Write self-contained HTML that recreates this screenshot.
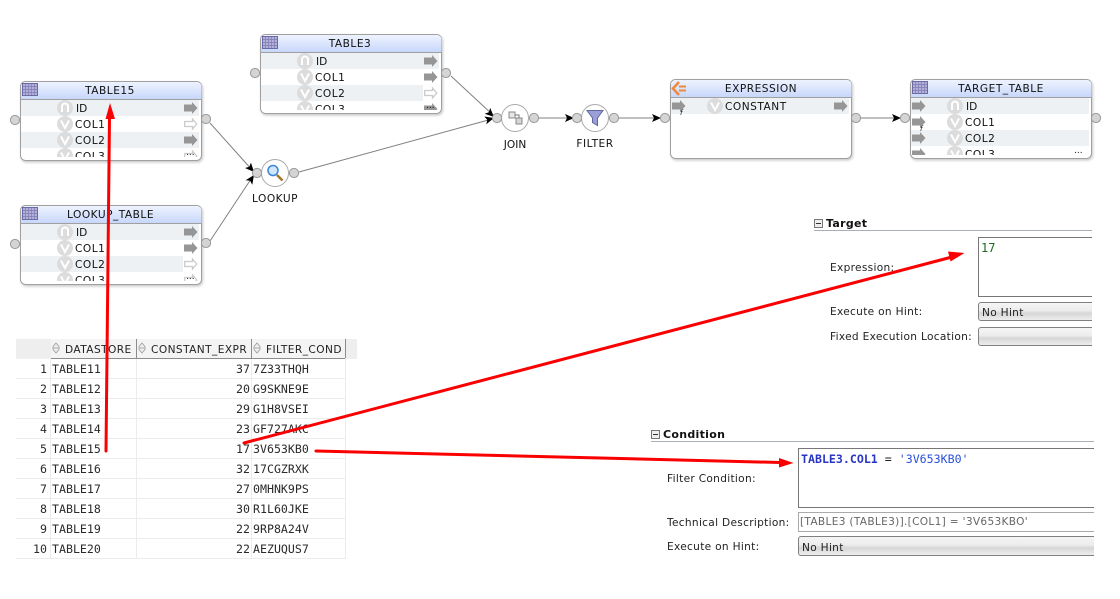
<!DOCTYPE html>
<html><head><meta charset="utf-8"><style>
html,body{margin:0;padding:0;background:#fff;width:1120px;height:599px;overflow:hidden}
svg{display:block}
text{font-family:"DejaVu Sans","Liberation Sans",sans-serif;font-size:10.6px;fill:#111}
.t{letter-spacing:.5px}
.m{font-family:"DejaVu Sans Mono","Liberation Mono",monospace;font-size:11.6px;fill:#2a2a2a}
.h{font-size:10.6px;fill:#222;letter-spacing:.42px}
.l{font-size:10.6px;fill:#222;letter-spacing:.3px}
.b{font-weight:bold;font-size:11px;letter-spacing:.3px}
.d{font-size:9px}
.c{text-anchor:middle}
.r{text-anchor:end}
</style></head><body>
<svg width="1120" height="599" viewBox="0 0 1120 599" xmlns="http://www.w3.org/2000/svg">
<defs>
<linearGradient id="hd" x1="0" y1="0" x2="0" y2="1"><stop offset="0" stop-color="#eef3fe"/><stop offset="1" stop-color="#c6d6fb"/></linearGradient>
<linearGradient id="cb" x1="0" y1="0" x2="0" y2="1"><stop offset="0" stop-color="#f6f6f6"/><stop offset=".45" stop-color="#ececec"/><stop offset=".6" stop-color="#d6d6d6"/><stop offset="1" stop-color="#f0f0f0"/></linearGradient>
<filter id="sh" x="-5%" y="-5%" width="110%" height="115%"><feDropShadow dx="1" dy="1.5" stdDeviation="1.2" flood-color="#000" flood-opacity=".22"/></filter>
<clipPath id="cl"><rect x="0" y="0" width="181" height="76"/></clipPath>
<g id="box"><rect x=".5" y=".5" width="181" height="79" rx="5" fill="#fff" stroke="#a0a0a0" filter="url(#sh)"/><path d="M1 18.500V5.500a4.500 4.500 0 0 1 4.500-4.500H177a4.500 4.500 0 0 1 4.500 4.500V18.500Z" fill="url(#hd)"/><path d="M1 18.500H181.500" stroke="#a0a0a0"/></g>
<g id="grid"><rect x=".5" y=".5" width="15" height="12" fill="#b3afd8" stroke="#6a6aa4"/><path d="M1 3.500H15M1 6.500H15M1 9.500H15M3.500 1V12M6.500 1V12M9.500 1V12M12.500 1V12" stroke="#7d7db4" stroke-width=".7"/></g>
<g id="ar"><path d="M0 -3.500H8V-6L13.500 0L8 6V3.500H0Z" fill="#969696"/></g>
<g id="aro"><path d="M.7 -2.500H8.500V-5L12.800 0L8.500 5V2.500H.7Z" fill="#fff" stroke="#cfcaca" stroke-width="1.300"/></g>
<circle id="port" r="4.600" fill="#d4d4d4" stroke="#999"/>
<g id="n"><circle r="8" fill="#dcdcdc"/><path d="M-3 4V-1.500a3 3 0 0 1 6 0V4" fill="none" stroke="#fff" stroke-width="2"/></g>
<g id="v"><circle r="8" fill="#dcdcdc"/><path d="M-4 -3.500L0 4L4 -3.500" fill="none" stroke="#fff" stroke-width="2"/></g>
<path id="tip" d="M0 0L-9 -4L-7 0L-9 4Z" fill="#000"/>
<g id="sb"><rect x=".5" y=".5" width="8" height="8" fill="#eee" stroke="#777"/><path d="M2 4.500H7" stroke="#333"/></g>
<g id="sort"><path d="M4 0L7 3.500V6.500L4 10L1 6.500V3.500Z" fill="#eee" stroke="#999" stroke-width=".8"/><path d="M1.500 5H6.500" stroke="#999" stroke-width=".8"/></g>
</defs>

<!-- connectors -->
<g stroke="#808080" stroke-width="1" fill="none">
<path d="M210 123L253 171M210 241L253 176M299 172L492 119M451 76L494 116M539 118H573M619 118H661M861 118H901"/>
</g>
<use href="#tip" transform="translate(254,172) rotate(48)"/>
<use href="#tip" transform="translate(254,175) rotate(-56)"/>
<use href="#tip" transform="translate(494,117) rotate(43)"/>
<use href="#tip" transform="translate(494,118) rotate(-15)"/>
<use href="#tip" transform="translate(574,118)"/>
<use href="#tip" transform="translate(661,118)"/>
<use href="#tip" transform="translate(901,118)"/>

<!-- TABLE15 -->
<g transform="translate(20,81)"><use href="#box"/><use href="#grid" x="2" y="2"/>
<text x="90" y="13" class="c t">TABLE15</text>
<g clip-path="url(#cl)"><rect x="1" y="19" width="178" height="16" fill="#eef1f4"/><rect x="1" y="51" width="178" height="16" fill="#eef1f4"/>
<use href="#n" x="45" y="27"/><use href="#v" x="45" y="43"/><use href="#v" x="45" y="59"/><use href="#v" x="45" y="75"/>
<text x="56" y="31">ID</text><text x="55" y="47" class="t">COL1</text><text x="55" y="63" class="t">COL2</text><text x="55" y="79" class="t">COL3</text>
<use href="#ar" x="164" y="27"/><use href="#aro" x="164" y="43"/><use href="#ar" x="164" y="59"/><use href="#aro" x="164" y="75"/></g>
<text x="166" y="74" class="d">...</text></g>
<use href="#port" x="15" y="120"/><use href="#port" x="206" y="119"/>

<!-- LOOKUP_TABLE -->
<g transform="translate(20,205)"><use href="#box"/><use href="#grid" x="2" y="2"/>
<text x="90.500" y="13" class="c t">LOOKUP_TABLE</text>
<g clip-path="url(#cl)"><rect x="1" y="19" width="178" height="16" fill="#eef1f4"/><rect x="1" y="51" width="162" height="16" fill="#eef1f4"/>
<use href="#n" x="45" y="27"/><use href="#v" x="45" y="43"/><use href="#v" x="45" y="59"/><use href="#v" x="45" y="75"/>
<text x="56" y="31">ID</text><text x="55" y="47" class="t">COL1</text><text x="55" y="63" class="t">COL2</text><text x="55" y="79" class="t">COL3</text>
<use href="#ar" x="164" y="27"/><use href="#ar" x="164" y="43"/><use href="#aro" x="164" y="59"/><use href="#aro" x="164" y="75"/></g>
<text x="166" y="74" class="d">...</text></g>
<use href="#port" x="15" y="244"/><use href="#port" x="206" y="243"/>

<!-- TABLE3 -->
<g transform="translate(260,34)"><use href="#box"/><use href="#grid" x="2" y="2"/>
<text x="90" y="13" class="c t">TABLE3</text>
<g clip-path="url(#cl)"><rect x="1" y="19" width="178" height="16" fill="#eef1f4"/><rect x="1" y="51" width="162" height="16" fill="#eef1f4"/>
<use href="#n" x="45" y="27"/><use href="#v" x="45" y="43"/><use href="#v" x="45" y="59"/><use href="#v" x="45" y="75"/>
<text x="56" y="31">ID</text><text x="55" y="47" class="t">COL1</text><text x="55" y="63" class="t">COL2</text><text x="55" y="79" class="t">COL3</text>
<use href="#ar" x="164" y="27"/><use href="#ar" x="164" y="43"/><use href="#aro" x="164" y="59"/><use href="#ar" x="164" y="75"/></g>
<text x="166" y="74" class="d">...</text></g>
<use href="#port" x="255" y="73"/><use href="#port" x="446" y="73"/>

<!-- LOOKUP -->
<circle cx="275" cy="173" r="13.500" fill="#fff" stroke="#aaa"/>
<circle cx="273" cy="170.500" r="5" fill="#cfe6fb" stroke="#3b86d6" stroke-width="1.500"/><path d="M277 175L282.500 180.500" stroke="#a5762a" stroke-width="2.500"/>
<use href="#port" x="257" y="173"/><use href="#port" x="294" y="173"/>
<text x="275" y="202" class="c t">LOOKUP</text>

<!-- JOIN -->
<circle cx="515" cy="118" r="13.500" fill="#fff" stroke="#aaa"/>
<rect x="509" y="112" width="6" height="6" fill="#e6e6e6" stroke="#888"/><rect x="516" y="118" width="6" height="6" fill="#d6d6d6" stroke="#888"/><path d="M515 115H519V118" fill="none" stroke="#777"/>
<use href="#port" x="497" y="118"/><use href="#port" x="534" y="118"/>
<text x="515" y="148" class="c">JOIN</text>

<!-- FILTER -->
<circle cx="595" cy="118" r="13.500" fill="#fff" stroke="#aaa"/>
<path d="M587 110.500H603L597.500 118V125.500L592.500 122.500V118Z" fill="#9b9fd8" stroke="#62659f"/>
<use href="#port" x="577" y="118"/><use href="#port" x="614" y="118"/>
<text x="595" y="147" class="c t">FILTER</text>

<!-- EXPRESSION -->
<g transform="translate(670,79)"><use href="#box"/>
<path d="M9 3L3 9.500L9 16" fill="none" stroke="#ee8a3c" stroke-width="2.600"/><path d="M9 7.500H16M9 11.500H16" stroke="#ee8a3c" stroke-width="2"/>
<text x="91" y="13" class="c t">EXPRESSION</text>
<rect x="1" y="19" width="178" height="16" fill="#eef1f4"/>
<use href="#v" x="45" y="27"/><text x="55" y="31" class="t">CONSTANT</text>
<use href="#ar" x="2" y="27"/><text x="10" y="36" style="font-size:7px;font-style:italic">f</text>
<use href="#ar" x="164" y="27"/></g>
<use href="#port" x="665" y="118"/><use href="#port" x="856" y="118"/>

<!-- TARGET_TABLE -->
<g transform="translate(910,79)"><use href="#box"/><use href="#grid" x="2" y="2"/>
<text x="91" y="13" class="c t">TARGET_TABLE</text>
<g clip-path="url(#cl)"><rect x="1" y="19" width="178" height="16" fill="#eef1f4"/><rect x="1" y="51" width="178" height="16" fill="#eef1f4"/>
<use href="#ar" x="2" y="27"/><use href="#ar" x="2" y="43"/><use href="#ar" x="2" y="59"/><use href="#ar" x="2" y="75"/>
<use href="#n" x="45" y="27"/><use href="#v" x="45" y="43"/><use href="#v" x="45" y="59"/><use href="#v" x="45" y="75"/>
<text x="56" y="31">ID</text><text x="55" y="47" class="t">COL1</text><text x="55" y="63" class="t">COL2</text><text x="55" y="79" class="t">COL3</text>
<text x="10" y="52" style="font-size:7px;font-style:italic">f</text></g>
<text x="164" y="74" class="d">...</text></g>
<use href="#port" x="905" y="118"/><use href="#port" x="1096" y="118"/>

<!-- data grid -->
<rect x="16" y="339" width="341" height="20" fill="#eeeeee"/>
<rect x="51" y="339" width="85" height="20" fill="#f4f4f4"/><rect x="137" y="339" width="114" height="20" fill="#f4f4f4"/><rect x="252" y="339" width="93" height="20" fill="#f4f4f4"/>
<path d="M136.500 339V358M251.500 339V358M345.500 339V358M51 358.500H345" stroke="#8c8c8c" fill="none"/>
<use href="#sort" x="52" y="343"/><use href="#sort" x="138" y="343"/><use href="#sort" x="253" y="343"/>
<text x="65" y="353" class="h">DATASTORE</text><text x="151" y="353" class="h">CONSTANT_EXPR</text><text x="266" y="353" class="h">FILTER_COND</text>
<path d="M16 378.500H346M16 398.500H346M16 418.500H346M16 438.500H346M16 458.500H346M16 478.500H346M16 498.500H346M16 518.500H346M16 538.500H346M16 558.500H346M50.500 359V559M136.500 359V559M251.500 359V559M345.500 359V559" stroke="#ececec" fill="none"/>
<g class="m">
<text class="m r" x="47" y="373">1</text><text class="m" x="52" y="373">TABLE11</text><text class="m r" x="250" y="373">37</text><text class="m" x="253" y="373">7Z33THQH</text>
<text class="m r" x="47" y="393">2</text><text class="m" x="52" y="393">TABLE12</text><text class="m r" x="250" y="393">20</text><text class="m" x="253" y="393">G9SKNE9E</text>
<text class="m r" x="47" y="413">3</text><text class="m" x="52" y="413">TABLE13</text><text class="m r" x="250" y="413">29</text><text class="m" x="253" y="413">G1H8VSEI</text>
<text class="m r" x="47" y="433">4</text><text class="m" x="52" y="433">TABLE14</text><text class="m r" x="250" y="433">23</text><text class="m" x="253" y="433">GF727AKC</text>
<text class="m r" x="47" y="453">5</text><text class="m" x="52" y="453">TABLE15</text><text class="m r" x="250" y="453">17</text><text class="m" x="253" y="453">3V653KB0</text>
<text class="m r" x="47" y="473">6</text><text class="m" x="52" y="473">TABLE16</text><text class="m r" x="250" y="473">32</text><text class="m" x="253" y="473">17CGZRXK</text>
<text class="m r" x="47" y="493">7</text><text class="m" x="52" y="493">TABLE17</text><text class="m r" x="250" y="493">27</text><text class="m" x="253" y="493">0MHNK9PS</text>
<text class="m r" x="47" y="513">8</text><text class="m" x="52" y="513">TABLE18</text><text class="m r" x="250" y="513">30</text><text class="m" x="253" y="513">R1L60JKE</text>
<text class="m r" x="47" y="533">9</text><text class="m" x="52" y="533">TABLE19</text><text class="m r" x="250" y="533">22</text><text class="m" x="253" y="533">9RP8A24V</text>
<text class="m r" x="47" y="553">10</text><text class="m" x="52" y="553">TABLE20</text><text class="m r" x="250" y="553">22</text><text class="m" x="253" y="553">AEZUQUS7</text>
</g>

<!-- Target panel -->
<use href="#sb" x="814" y="219"/>
<text x="826" y="227" class="b">Target</text>
<path d="M814 230.500H1092" stroke="#a9aeb8"/>
<text x="830" y="271" class="l">Expression:</text>
<text x="830" y="315" class="l">Execute on Hint:</text>
<text x="830" y="340" class="l">Fixed Execution Location:</text>
<path d="M1092 237.500H978.500V296.500H1092" fill="#fff" stroke="#777"/>
<text x="981" y="252" class="m" style="fill:#1c6b1c;font-size:12px">17</text>
<path d="M1092 302.500H981a2.500 2.500 0 0 0 -2.500 2.500V318a2.500 2.500 0 0 0 2.500 2.500H1092" fill="url(#cb)" stroke="#808080"/>
<text x="982" y="316" class="l">No Hint</text>
<path d="M1092 327.500H981a2.500 2.500 0 0 0 -2.500 2.500V343a2.500 2.500 0 0 0 2.500 2.500H1092" fill="url(#cb)" stroke="#808080"/>

<!-- Condition panel -->
<use href="#sb" x="651" y="430"/>
<text x="663" y="438" class="b">Condition</text>
<path d="M651 441.500H1094" stroke="#a9aeb8"/>
<text x="667" y="482" class="l">Filter Condition:</text>
<text x="667" y="526" class="l">Technical Description:</text>
<text x="667" y="550" class="l">Execute on Hint:</text>
<path d="M1094 448.500H798.500V507.500H1094" fill="#fff" stroke="#777"/>
<text x="801" y="463" class="m" style="font-size:11.6px;fill:#2a35c4;font-weight:bold">TABLE3.COL1<tspan style="font-weight:normal;fill:#222"> = </tspan><tspan style="font-weight:normal;fill:#2a50d8">'3V653KB0'</tspan></text>
<path d="M1094 512.500H798.500V531.500H1094" fill="#fff" stroke="#aaa"/>
<text x="800" y="525" style="fill:#666;font-size:10.600px;letter-spacing:.3px">[TABLE3 (TABLE3)].[COL1] = '3V653KBO'</text>
<path d="M1094 536.500H801a2.500 2.500 0 0 0 -2.500 2.500V553a2.500 2.500 0 0 0 2.500 2.500H1094" fill="url(#cb)" stroke="#808080"/>
<text x="802" y="551" class="l">No Hint</text>

<!-- red arrows -->
<g stroke="#fb0000" stroke-width="3" fill="none" stroke-linecap="round">
<path d="M106 451L109.500 116"/>
<path d="M244 443L952 257"/>
<path d="M316 451L780 462.500"/>
</g>
<g fill="#fb0000">
<path d="M110 103L115 119H105.500Z"/>
<path d="M964.500 253L950.500 261.500L948 251.500Z"/>
<path d="M793.500 463L779 467.500V458Z"/>
</g>
</svg>
</body></html>
